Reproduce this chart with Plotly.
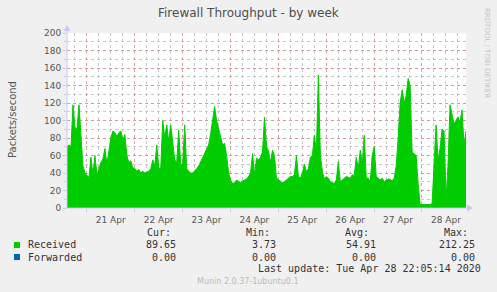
import datetime as dt
import plotly.graph_objects as go

# ---- data (hourly samples, packets/second) ----
start_time = "2020-04-20 14:05"
received = [
    70, 72, 70, 118, 92, 90, 118, 80, 48, 40,
    38, 35, 58, 38, 60, 38, 45, 52, 56, 68,
    50, 68, 80, 88, 86, 82, 86, 88, 78, 84,
    60, 52, 54, 46, 45, 42, 44, 40, 42, 40,
    41, 42, 45, 55, 48, 72, 45, 46, 100, 80,
    95, 76, 95, 72, 55, 52, 89, 50, 50, 95,
    45, 42, 40, 40, 42, 45, 48, 53, 58, 62,
    68, 72, 85, 100, 116, 100, 90, 80, 72, 74,
    60, 40, 32, 28, 29, 32, 30, 29, 31, 32,
    33, 36, 40, 62, 38, 57, 55, 58, 64, 104,
    70, 65, 52, 66, 60, 34, 32, 30, 29, 30,
    32, 33, 36, 36, 38, 60, 36, 34, 40, 50,
    41, 45, 58, 60, 83, 64, 152, 60, 42, 33,
    36, 34, 30, 29, 28, 32, 53, 30, 32, 34,
    36, 35, 34, 38, 37, 58, 45, 66, 50, 83,
    34, 34, 30, 60, 70, 36, 34, 32, 34, 30,
    32, 33, 33, 31, 34, 48, 80, 120, 135, 120,
    128, 148, 140, 64, 62, 60, 28, 4, 4, 4,
    4, 4, 4, 5, 55, 95, 55, 68, 90, 88,
    10, 50, 118, 106, 96, 100, 104, 98, 112, 72,
    88,
]
forwarded = [0] * len(received)

legend_names = ["Received", "Forwarded"]
legend_colors = ["#00CC00", "#0066B3"]
stat_headers = ["Cur:", "Min:", "Avg:", "Max:"]
stats = {
    "Received": ["89.65", "3.73", "54.91", "212.25"],
    "Forwarded": ["0.00", "0.00", "0.00", "0.00"],
}
y_ticks = list(range(0, 201, 20))

t0 = dt.datetime.fromisoformat(start_time)
times = [t0 + dt.timedelta(hours=i) for i in range(len(received))]
x_end = t0 + dt.timedelta(hours=200)

# ---- geometry helpers ----
W, H = 497, 292
L, R, T, B = 67, 466, 33, 208


def px(x):
    return (x - L) / (R - L)


def py(y):
    return (B - y) / (B - T)


fig = go.Figure()
fig.add_trace(go.Scatter(
    x=times, y=received, mode="lines", fill="tozeroy",
    line=dict(color="#00CC00", width=1), fillcolor="#00CC00",
    showlegend=False, hoverinfo="skip"))
fig.add_trace(go.Scatter(
    x=times, y=forwarded, mode="lines",
    line=dict(color="#0066B3", width=1),
    showlegend=False, hoverinfo="skip"))

RED_GRID = "rgba(225,140,140,0.85)"
GREY_GRID = "rgba(195,195,195,0.9)"
AXIS_COL = "#c8c8f5"
TXT = "#555555"

fig.update_layout(
    width=W, height=H,
    margin=dict(l=L, r=W - R, t=T, b=H - B, pad=0),
    paper_bgcolor="#F0F0F0", plot_bgcolor="#FFFFFF",
    font=dict(family="DejaVu Sans", size=9, color=TXT),
    xaxis=dict(
        type="date", range=[t0, x_end],
        tick0="2020-04-21", dtick=86400000,
        tickformat="%d %b", ticklabelmode="period",
        showgrid=True, gridcolor=RED_GRID, griddash="dot", gridwidth=1,
        minor=dict(dtick=6 * 3600000, showgrid=True, gridcolor=GREY_GRID,
                   griddash="dot", gridwidth=1),
        ticks="outside", ticklen=3, tickcolor=AXIS_COL,
        showline=False, zeroline=False,
        tickfont=dict(family="DejaVu Sans", size=9, color=TXT),
    ),
    yaxis=dict(
        range=[0, 200], tickvals=y_ticks,
        showgrid=True, gridcolor=RED_GRID, griddash="dot", gridwidth=1,
        minor=dict(dtick=10, showgrid=True, gridcolor=GREY_GRID,
                   griddash="dot", gridwidth=1, ticks="outside",
                   ticklen=2, tickcolor=AXIS_COL),
        ticks="outside", ticklen=3, tickcolor=AXIS_COL,
        showline=False, zeroline=False,
        tickfont=dict(family="DejaVu Sans", size=9, color=TXT),
    ),
)

shapes = []
# axis lines with arrows
shapes.append(dict(type="line", xref="paper", yref="paper",
                   x0=px(67), x1=px(67), y0=py(208), y1=py(29),
                   line=dict(color=AXIS_COL, width=1)))
shapes.append(dict(type="line", xref="paper", yref="paper",
                   x0=px(66), x1=px(470), y0=py(208), y1=py(208),
                   line=dict(color=AXIS_COL, width=1)))
shapes.append(dict(type="path", xref="paper", yref="paper",
                   path=f"M {px(63.5)} {py(31)} L {px(70.5)} {py(31)} L {px(67)} {py(25)} Z",
                   fillcolor=AXIS_COL, line=dict(width=0)))
shapes.append(dict(type="path", xref="paper", yref="paper",
                   path=f"M {px(467)} {py(204.5)} L {px(467)} {py(211.5)} L {px(473)} {py(208)} Z",
                   fillcolor=AXIS_COL, line=dict(width=0)))
# legend squares
for i, col in enumerate(legend_colors):
    yc = 245 + i * 12
    shapes.append(dict(type="rect", xref="paper", yref="paper",
                       x0=px(14), x1=px(20), y0=py(yc - 3), y1=py(yc + 3),
                       fillcolor=col, line=dict(width=0)))
fig.update_layout(shapes=shapes)


def note(text, x, y, font, xanchor="center", angle=0):
    return dict(text=text, x=px(x), y=py(y), xref="paper", yref="paper",
                xanchor=xanchor, yanchor="middle", textangle=angle,
                showarrow=False, font=font)


ann = []
ann.append(note("Firewall Throughput - by week", 248, 13,
                dict(family="DejaVu Sans", size=12, color="#4d4d4d")))
ann.append(note("Packets/second", 12, 120,
                dict(family="DejaVu Sans", size=10, color=TXT), angle=-90))
ann.append(note("RRDTOOL / TOBI OETIKER", 487, 53,
                dict(family="DejaVu Sans", size=7, color="#c4c4c4"), angle=90))

MONO = dict(family="DejaVu Sans Mono", size=10, color="#333333")
col_right = [178, 278, 378, 477]
head_right = [173, 272, 371, 470]
for h, xr in zip(stat_headers, head_right):
    ann.append(note(h, xr, 232, MONO, xanchor="right"))
for i, name in enumerate(legend_names):
    yc = 244.5 + i * 12.5
    ann.append(note(name, 26, yc, MONO, xanchor="left"))
    for v, xr in zip(stats[name], col_right):
        ann.append(note(v, xr, yc, MONO, xanchor="right"))
ann.append(note("Last update: Tue Apr 28 22:05:14 2020", 483, 268.5, MONO, xanchor="right"))
ann.append(note("Munin 2.0.37-1ubuntu0.1", 248, 281,
                dict(family="DejaVu Sans", size=8, color="#bbbbbb")))
fig.update_layout(annotations=ann)

fig.write_html("out.html")
